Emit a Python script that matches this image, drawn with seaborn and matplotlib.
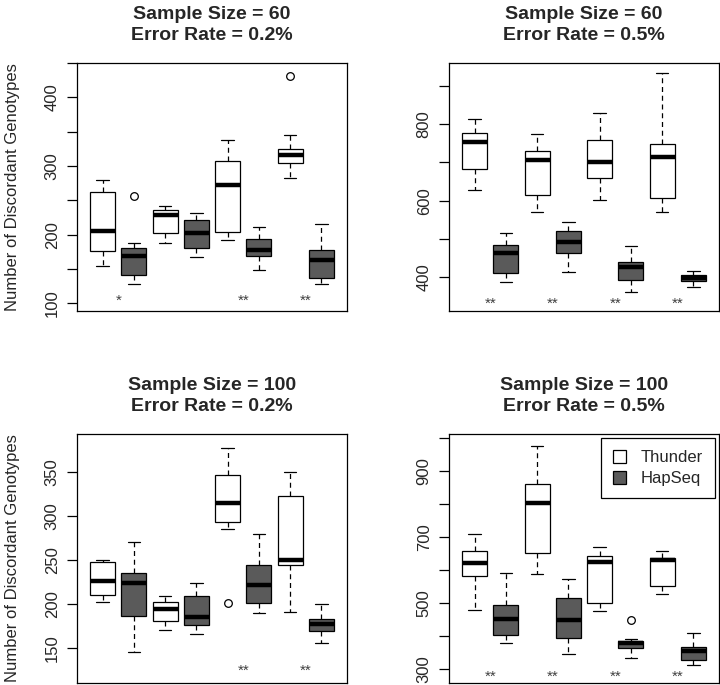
import numpy as np
import pandas as pd
import matplotlib
matplotlib.use("Agg")
import matplotlib.pyplot as plt
from matplotlib.patches import Patch
import seaborn as sns

sns.set_style("white")
plt.rcParams["font.family"] = ["Liberation Sans", "DejaVu Sans"]

methods = ["Thunder", "HapSeq"]
box_ids = ["G1 Thunder", "G1 HapSeq", "G2 Thunder", "G2 HapSeq",
           "G3 Thunder", "G3 HapSeq", "G4 Thunder", "G4 HapSeq"]
titles = ["Sample Size = 60\nError Rate = 0.2%",
          "Sample Size = 60\nError Rate = 0.5%",
          "Sample Size = 100\nError Rate = 0.2%",
          "Sample Size = 100\nError Rate = 0.5%"]
ylabel = "Number of Discordant Genotypes"

# five-number summaries: whisker low, Q1, median, Q3, whisker high
n60_e02 = [
    [155, 177, 205, 262, 279],
    [128, 142, 169, 181, 188],
    [188, 203, 228, 236, 242],
    [167, 181, 203, 221, 231],
    [193, 204, 273, 307, 338],
    [149, 169, 178, 194, 211],
    [282, 305, 316, 325, 345],
    [128, 137, 163, 178, 216],
]
n60_e05 = [
    [629, 683, 754, 776, 815],
    [386, 410, 462, 483, 516],
    [569, 614, 707, 730, 775],
    [414, 462, 492, 521, 543],
    [601, 660, 701, 759, 829],
    [361, 392, 427, 440, 481],
    [571, 607, 715, 748, 934],
    [375, 390, 397, 405, 417],
]
n100_e02 = [
    [202, 210, 226, 248, 250],
    [146, 187, 224, 235, 270],
    [171, 181, 194, 202, 209],
    [166, 176, 185, 209, 224],
    [285, 293, 315, 346, 377],
    [190, 201, 222, 244, 279],
    [191, 244, 250, 322, 350],
    [156, 169, 177, 183, 200],
]
n100_e05 = [
    [478, 583, 621, 657, 708],
    [380, 404, 452, 493, 590],
    [589, 650, 803, 859, 975],
    [346, 394, 448, 516, 574],
    [476, 501, 624, 641, 669],
    [334, 364, 380, 386, 393],
    [529, 551, 631, 637, 658],
    [312, 328, 356, 368, 410],
]

# outliers: (box index, value)
out_n60_e02 = [(1, 256), (6, 431)]
out_n60_e05 = []
out_n100_e02 = [(4, 201)]
out_n100_e05 = [(5, 449)]

# significance marks per group, and their height
stars_n60_e02 = ["*", "", "**", "**"]
stars_n60_e05 = ["**", "**", "**", "**"]
stars_n100_e02 = ["", "", "**", "**"]
stars_n100_e05 = ["**", "**", "**", "**"]
star_y = [110.6, 344, 130, 293]

# y ticks and labelled ticks
yticks = [list(range(100, 451, 50)), list(range(400, 901, 100)),
          list(range(150, 351, 50)), list(range(300, 1001, 100))]
ylabels_shown = [[100, 200, 300, 400], [400, 600, 800],
                 [150, 200, 250, 300, 350], [300, 500, 700, 900]]
ylims = [(89.3, 450.6), (311.7, 961.4), (111, 392.3), (259.5, 1010)]

panels = [n60_e02, n60_e05, n100_e02, n100_e05]
outliers = [out_n60_e02, out_n60_e05, out_n100_e02, out_n100_e05]
stars = [stars_n60_e02, stars_n60_e05, stars_n100_e02, stars_n100_e05]

palette = {"Thunder": "white", "HapSeq": "#5a5a5a"}

W, H = 720, 685
fig = plt.figure(figsize=(7.2, 6.85), dpi=100)
rects_px = [(77, 62.7, 270, 248), (449, 62.7, 270, 248),
            (77, 434.3, 270, 248.4), (449, 434.3, 270, 248.4)]

for k in range(4):
    x0, y0, w, h = rects_px[k]
    ax = fig.add_axes([x0 / W, 1 - (y0 + h) / H, w / W, h / H])
    rows = []
    for i, s in enumerate(panels[k]):
        for v in s:
            rows.append({"box": box_ids[i], "method": methods[i % 2], "value": v})
    df = pd.DataFrame(rows)
    sns.boxplot(data=df, x="box", y="value", hue="method", order=box_ids,
                hue_order=methods, palette=palette, dodge=False, width=0.8,
                whis=(0, 100), linecolor="black", linewidth=0.9,
                medianprops=dict(linewidth=3.2, color="black", solid_capstyle="butt"),
                whiskerprops=dict(linestyle=(0, (4, 3))),
                showfliers=False, legend=False, ax=ax)
    if outliers[k]:
        odf = pd.DataFrame({"box": [box_ids[i] for i, _ in outliers[k]],
                            "value": [v for _, v in outliers[k]]})
        sns.stripplot(data=odf, x="box", y="value", order=box_ids, jitter=False,
                      color="white", edgecolor="black", linewidth=0.9, size=5.5,
                      marker="o", ax=ax, zorder=5)
    for g, lab in enumerate(stars[k]):
        if lab:
            ax.annotate(lab, (2 * g + 0.5, star_y[k]), xytext=(0, -6.5),
                        textcoords="offset points", ha="center", va="baseline",
                        fontsize=11, color="#404040")
    ax.set_xlim(-0.82, 7.82)
    ax.set_ylim(*ylims[k])
    ax.set_xticks([])
    ax.set_xlabel("")
    ax.set_yticks(yticks[k])
    ax.set_yticklabels([str(t) if t in ylabels_shown[k] else "" for t in yticks[k]],
                       rotation=90, va="center", fontsize=12)
    ax.tick_params(axis="y", left=True, length=7.5, width=0.9, pad=5, color="black")
    for sp in ax.spines.values():
        sp.set_color("black")
        sp.set_linewidth(0.9)
    ax.set_title(titles[k], fontsize=14, fontweight="bold", pad=16.5, linespacing=1.32)
    if k % 2 == 0:
        ax.set_ylabel(ylabel, fontsize=12, va="center")
        ax.yaxis.set_label_coords(-0.24, 0.5)
    else:
        ax.set_ylabel("")
    if k == 3:
        handles = [Patch(facecolor=palette[m], edgecolor="black", linewidth=0.9) for m in methods]
        leg = ax.legend(handles, methods, loc="upper right", fontsize=12,
                        frameon=True, fancybox=False, framealpha=1,
                        edgecolor="black", handlelength=0.8, handleheight=0.8,
                        borderaxespad=0.25, borderpad=0.7, labelspacing=0.35,
                        handletextpad=0.9)
        leg.get_frame().set_linewidth(0.9)

fig.savefig("out.png", dpi=100)
